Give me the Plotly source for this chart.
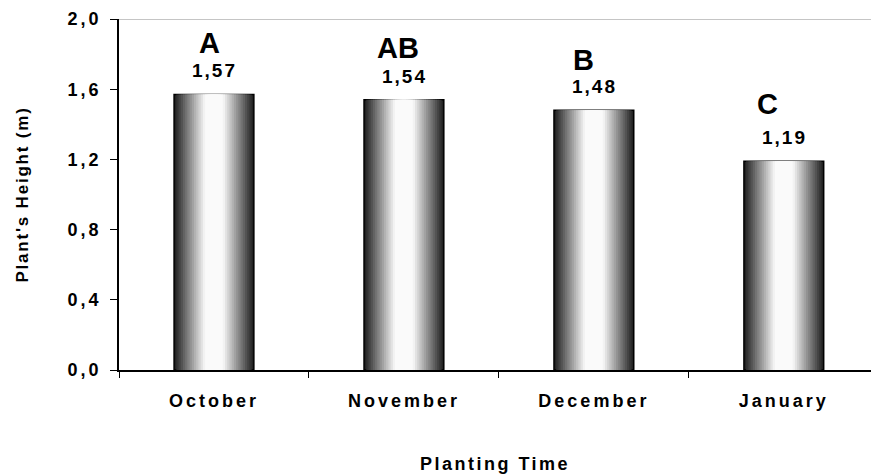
import plotly.graph_objects as go

months = ["October", "November", "December", "January"]
heights = [1.57, 1.54, 1.48, 1.19]
groups = ["A", "AB", "B", "C"]
y_ticks = [0.0, 0.4, 0.8, 1.2, 1.6, 2.0]

# layout tweaks for the significance letters (pixel shifts)
letter_dx = [-4, -6, -10, -16]
letter_dy = [40, 41, 39, 46]

FONT = "Liberation Sans, Arial, sans-serif"
BAR_W = 0.42
N_LAYERS = 18

fig = go.Figure()

def gray_for(r):
    # r = 1 at bar edge, 0 at centre
    if r <= 0.25:
        return 250
    return int(round(250 - (r - 0.25) / 0.75 * 215))

for k in range(N_LAYERS):
    r = 1 - k / N_LAYERS
    g = gray_for(r)
    fig.add_trace(go.Bar(
        x=months, y=heights, width=BAR_W * r,
        marker=dict(color=f"rgb({g},{g},{g})",
                    line=dict(color="black", width=1.5 if k == 0 else 0)),
        showlegend=False, hoverinfo="skip" if k else "y",
    ))

for i, (m, h) in enumerate(zip(months, heights)):
    fig.add_annotation(x=m, y=h, text=f"{h:.2f}".replace(".", ","),
                       showarrow=False, yanchor="bottom", yshift=11, xshift=1,
                       font=dict(family=FONT, size=19, color="black", weight="bold"))
    fig.add_annotation(x=m, y=h, text=groups[i], showarrow=False,
                       yanchor="bottom", yshift=letter_dy[i] - 7, xshift=letter_dx[i],
                       font=dict(family=FONT, size=29, color="black", weight="bold"))

fig.add_shape(type="line", xref="paper", yref="y", x0=0, x1=1, y0=2.0, y1=2.0,
              line=dict(color="#8c8c8c", width=1.2), layer="below")

fig.update_layout(
    width=871, height=475,
    margin=dict(l=119, r=0, t=19, b=105),
    paper_bgcolor="white", plot_bgcolor="white",
    barmode="overlay", separators=",.",
    font=dict(family=FONT, color="black"),
    xaxis=dict(
        type="category", range=[-0.5, 3.459], tickson="boundaries",
        ticks="outside", ticklen=6, tickcolor="black", tickwidth=1.3,
        ticklabelstandoff=14,
        showline=True, linecolor="black", linewidth=1.5, showgrid=False,
        tickfont=dict(family=FONT, size=18, color="black", weight="bold"),
        title=dict(text="Planting Time", standoff=47,
                   font=dict(family=FONT, size=18, color="black", weight="bold")),
    ),
    yaxis=dict(
        range=[0, 2.0], tickvals=y_ticks, tickformat=".1f",
        ticks="outside", ticklen=7, tickcolor="black", tickwidth=1.3,
        ticklabelstandoff=5,
        showline=True, linecolor="black", linewidth=1.5, showgrid=False, zeroline=False,
        tickfont=dict(family=FONT, size=18, color="black", weight="bold"),
        title=dict(text="Plant's Height (m)", standoff=44,
                   font=dict(family=FONT, size=17, color="black", weight="bold")),
    ),
)

post = """
document.documentElement.style.overflow = 'hidden';
document.body.style.overflow = 'hidden';
document.body.style.margin = '0px';
function spacing(sel, px) {
  document.querySelectorAll(sel).forEach(function (t) { t.style.letterSpacing = px; });
}
spacing('g.xtick text', '3px');
spacing('g.ytick text', '3px');
spacing('text.xtitle', '2.5px');
spacing('text.ytitle', '1.8px');
document.querySelectorAll('text.annotation-text').forEach(function (t) {
  if (t.textContent.indexOf(',') >= 0) { t.style.letterSpacing = '2px'; }
});
"""

fig.write_html("out.html", post_script=post, config={"displayModeBar": False})
